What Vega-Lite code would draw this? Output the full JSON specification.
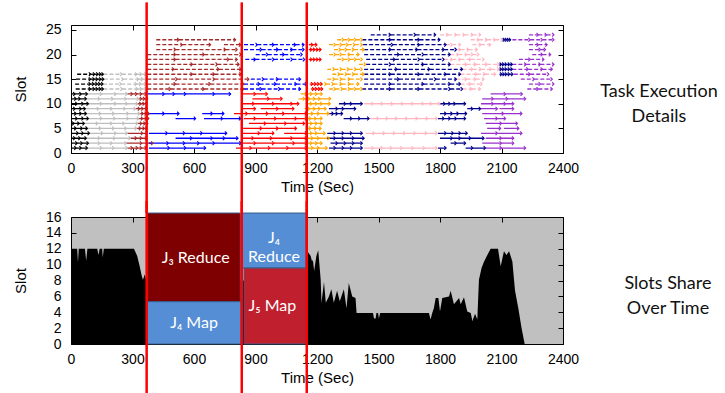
{
"$schema": "https://vega.github.io/schema/vega-lite/v6.json",
"padding": {"left": 12, "top": 0, "right": 0, "bottom": 0},
"bounds": "flush",
"spacing": 64,
"datasets": {
"cuts": [{"t": 369}, {"t": 833}, {"t": 1150}],
"slots": [{"t":0,"v":12},{"t":30,"v":12},{"t":34,"v":10.3},{"t":38,"v":12},{"t":68,"v":12},{"t":74,"v":10.5},{"t":80,"v":12},{"t":128,"v":12},{"t":134,"v":11.2},{"t":140,"v":12},{"t":152,"v":12},{"t":155,"v":10.9},{"t":160,"v":12},{"t":307,"v":12},{"t":323,"v":11.1},{"t":335,"v":9.8},{"t":345,"v":8.6},{"t":351,"v":8.1},{"t":360,"v":8.8},{"t":367,"v":8.0},{"t":375,"v":8},{"t":1140,"v":8},{"t":1150,"v":11.7},{"t":1153,"v":11.7},{"t":1169,"v":11.1},{"t":1176,"v":10.4},{"t":1180,"v":10.6},{"t":1186,"v":9.2},{"t":1197,"v":11.1},{"t":1206,"v":11.8},{"t":1218,"v":8.1},{"t":1222,"v":5.2},{"t":1234,"v":7.8},{"t":1243,"v":5.2},{"t":1258,"v":6.0},{"t":1270,"v":6.9},{"t":1282,"v":5.2},{"t":1298,"v":6.7},{"t":1311,"v":5.4},{"t":1331,"v":6.9},{"t":1344,"v":4.5},{"t":1355,"v":7.7},{"t":1372,"v":6.0},{"t":1388,"v":5.8},{"t":1393,"v":3.9},{"t":1473,"v":3.9},{"t":1478,"v":3.2},{"t":1486,"v":3.2},{"t":1490,"v":3.9},{"t":1498,"v":3.9},{"t":1502,"v":3.2},{"t":1508,"v":3.9},{"t":1746,"v":3.9},{"t":1754,"v":3.1},{"t":1762,"v":3.9},{"t":1770,"v":4.5},{"t":1779,"v":5.8},{"t":1792,"v":5.8},{"t":1800,"v":4.1},{"t":1811,"v":5.8},{"t":1844,"v":6.0},{"t":1852,"v":6.7},{"t":1868,"v":5.0},{"t":1893,"v":5.8},{"t":1901,"v":5.0},{"t":1917,"v":5.9},{"t":1933,"v":4.1},{"t":1950,"v":3.9},{"t":1958,"v":2.9},{"t":1971,"v":3.8},{"t":1982,"v":3.1},{"t":1990,"v":8.1},{"t":2003,"v":9.6},{"t":2015,"v":10.4},{"t":2031,"v":11.2},{"t":2047,"v":12.0},{"t":2083,"v":12.0},{"t":2096,"v":9.8},{"t":2112,"v":11.7},{"t":2124,"v":11.2},{"t":2137,"v":11.7},{"t":2153,"v":10.4},{"t":2166,"v":6.7},{"t":2182,"v":4.5},{"t":2198,"v":2.0},{"t":2213,"v":0},{"t":2400,"v":0}],
"shares": [{"share":"J3 Reduce","t0":371,"t1":826,"v0":5.33,"v1":16.5},{"share":"J4 Map","t0":371,"t1":829,"v0":0,"v1":5.33},{"share":"J4 Reduce","t0":834,"t1":1146,"v0":9.57,"v1":16.5},{"share":"J5 Map","t0":844,"t1":1146,"v0":0,"v1":9.57}],
"shareLabels": [{"label":"J₃ Reduce","t":608,"v":10.83},{"label":"J₄ Map","t":600,"v":2.64},{"label":"J₄\nReduce","t":990,"v":13.3},{"label":"J₅ Map","t":982,"v":4.82}],
"tasks": [
{"s":1,"a":0,"b":25,"j":"J1"},{"s":1,"a":25,"b":50,"j":"J1"},{"s":1,"a":50,"b":80,"j":"J1"},
{"s":2,"a":0,"b":30,"j":"J1"},{"s":2,"a":30,"b":55,"j":"J1"},{"s":2,"a":55,"b":85,"j":"J1"},
{"s":3,"a":0,"b":20,"j":"J1"},{"s":3,"a":20,"b":45,"j":"J1"},{"s":3,"a":45,"b":75,"j":"J1"},
{"s":4,"a":0,"b":35,"j":"J1"},{"s":4,"a":35,"b":60,"j":"J1"},{"s":4,"a":60,"b":90,"j":"J1"},
{"s":5,"a":0,"b":25,"j":"J1"},{"s":5,"a":25,"b":55,"j":"J1"},{"s":5,"a":55,"b":80,"j":"J1"},
{"s":6,"a":0,"b":15,"j":"J1"},{"s":6,"a":15,"b":40,"j":"J1"},{"s":6,"a":40,"b":65,"j":"J1"},
{"s":7,"a":0,"b":30,"j":"J1"},{"s":7,"a":30,"b":60,"j":"J1"},{"s":7,"a":60,"b":85,"j":"J1"},
{"s":8,"a":0,"b":25,"j":"J1"},{"s":8,"a":25,"b":50,"j":"J1"},{"s":8,"a":50,"b":75,"j":"J1"},
{"s":9,"a":0,"b":20,"j":"J1"},{"s":9,"a":20,"b":50,"j":"J1"},{"s":9,"a":50,"b":70,"j":"J1"},
{"s":10,"a":0,"b":30,"j":"J1"},{"s":10,"a":30,"b":60,"j":"J1"},{"s":10,"a":60,"b":85,"j":"J1"},
{"s":11,"a":0,"b":25,"j":"J1"},{"s":11,"a":25,"b":45,"j":"J1"},{"s":11,"a":45,"b":75,"j":"J1"},
{"s":12,"a":0,"b":20,"j":"J1"},{"s":12,"a":20,"b":50,"j":"J1"},{"s":12,"a":50,"b":80,"j":"J1"},
{"s":1,"a":80,"b":150,"j":"J2"},{"s":1,"a":150,"b":210,"j":"J2"},{"s":1,"a":210,"b":275,"j":"J2"},
{"s":2,"a":85,"b":140,"j":"J2"},{"s":2,"a":140,"b":200,"j":"J2"},{"s":2,"a":200,"b":270,"j":"J2"},
{"s":3,"a":75,"b":140,"j":"J2"},{"s":3,"a":140,"b":215,"j":"J2"},{"s":3,"a":215,"b":290,"j":"J2"},
{"s":4,"a":90,"b":155,"j":"J2"},{"s":4,"a":155,"b":220,"j":"J2"},{"s":4,"a":220,"b":275,"j":"J2"},
{"s":5,"a":80,"b":145,"j":"J2"},{"s":5,"a":145,"b":210,"j":"J2"},{"s":5,"a":210,"b":270,"j":"J2"},{"s":5,"a":270,"b":320,"j":"J2"},
{"s":6,"a":65,"b":130,"j":"J2"},{"s":6,"a":130,"b":200,"j":"J2"},{"s":6,"a":200,"b":260,"j":"J2"},{"s":6,"a":260,"b":325,"j":"J2"},
{"s":7,"a":85,"b":150,"j":"J2"},{"s":7,"a":150,"b":215,"j":"J2"},{"s":7,"a":215,"b":280,"j":"J2"},{"s":7,"a":280,"b":330,"j":"J2"},
{"s":8,"a":75,"b":145,"j":"J2"},{"s":8,"a":145,"b":210,"j":"J2"},{"s":8,"a":210,"b":280,"j":"J2"},{"s":8,"a":280,"b":335,"j":"J2"},
{"s":9,"a":70,"b":135,"j":"J2"},{"s":9,"a":135,"b":200,"j":"J2"},{"s":9,"a":200,"b":265,"j":"J2"},{"s":9,"a":265,"b":315,"j":"J2"},
{"s":10,"a":85,"b":150,"j":"J2"},{"s":10,"a":150,"b":220,"j":"J2"},{"s":10,"a":220,"b":275,"j":"J2"},{"s":10,"a":275,"b":325,"j":"J2"},
{"s":11,"a":75,"b":140,"j":"J2"},{"s":11,"a":140,"b":205,"j":"J2"},{"s":11,"a":205,"b":270,"j":"J2"},{"s":11,"a":270,"b":330,"j":"J2"},
{"s":12,"a":80,"b":150,"j":"J2"},{"s":12,"a":150,"b":220,"j":"J2"},{"s":12,"a":220,"b":275,"j":"J2"},
{"s":1,"a":275,"b":300,"j":"J3"},{"s":1,"a":300,"b":325,"j":"J3"},{"s":1,"a":325,"b":345,"j":"J3"},{"s":1,"a":345,"b":368,"j":"J3"},
{"s":2,"a":270,"b":345,"j":"J3"},{"s":2,"a":345,"b":400,"j":"J3"},
{"s":3,"a":290,"b":320,"j":"J3"},{"s":3,"a":320,"b":345,"j":"J3"},{"s":3,"a":345,"b":370,"j":"J3"},
{"s":4,"a":275,"b":350,"j":"J3"},{"s":4,"a":350,"b":372,"j":"J3"},
{"s":5,"a":320,"b":340,"j":"J3"},{"s":5,"a":340,"b":358,"j":"J3"},{"s":5,"a":358,"b":372,"j":"J3"},
{"s":6,"a":325,"b":345,"j":"J3"},{"s":6,"a":345,"b":362,"j":"J3"},{"s":6,"a":362,"b":375,"j":"J3"},
{"s":7,"a":330,"b":350,"j":"J3"},{"s":7,"a":350,"b":368,"j":"J3"},{"s":7,"a":368,"b":380,"j":"J3"},
{"s":8,"a":335,"b":352,"j":"J3"},{"s":8,"a":352,"b":368,"j":"J3"},{"s":8,"a":368,"b":382,"j":"J3"},
{"s":9,"a":315,"b":335,"j":"J3"},{"s":9,"a":335,"b":352,"j":"J3"},{"s":9,"a":352,"b":370,"j":"J3"},
{"s":10,"a":325,"b":342,"j":"J3"},{"s":10,"a":342,"b":358,"j":"J3"},{"s":10,"a":358,"b":372,"j":"J3"},
{"s":11,"a":330,"b":345,"j":"J3"},{"s":11,"a":345,"b":360,"j":"J3"},{"s":11,"a":360,"b":374,"j":"J3"},
{"s":12,"a":275,"b":300,"j":"J3"},{"s":12,"a":300,"b":322,"j":"J3"},{"s":12,"a":322,"b":345,"j":"J3"},{"s":12,"a":345,"b":368,"j":"J3"},
{"s":12,"a":372,"b":455,"j":"J4"},{"s":12,"a":455,"b":505,"j":"J4"},{"s":12,"a":505,"b":560,"j":"J4"},{"s":12,"a":560,"b":700,"j":"J4"},{"s":12,"a":700,"b":779,"j":"J4"},
{"s":8,"a":380,"b":455,"j":"J4"},{"s":8,"a":455,"b":527,"j":"J4"},{"s":8,"a":640,"b":690,"j":"J4"},{"s":8,"a":690,"b":746,"j":"J4"},
{"s":7,"a":510,"b":608,"j":"J4"},{"s":7,"a":649,"b":740,"j":"J4"},{"s":7,"a":740,"b":828,"j":"J4"},
{"s":4,"a":380,"b":470,"j":"J4"},{"s":4,"a":470,"b":555,"j":"J4"},{"s":4,"a":555,"b":640,"j":"J4"},{"s":4,"a":640,"b":760,"j":"J4"},
{"s":3,"a":510,"b":590,"j":"J4"},{"s":3,"a":590,"b":690,"j":"J4"},{"s":3,"a":690,"b":750,"j":"J4"},{"s":3,"a":750,"b":815,"j":"J4"},
{"s":2,"a":380,"b":475,"j":"J4"},{"s":2,"a":475,"b":555,"j":"J4"},{"s":2,"a":555,"b":625,"j":"J4"},{"s":2,"a":625,"b":700,"j":"J4"},{"s":2,"a":700,"b":830,"j":"J4"},
{"s":1,"a":380,"b":480,"j":"J4"},{"s":1,"a":480,"b":560,"j":"J4"},{"s":1,"a":560,"b":657,"j":"J4"},
{"s":12,"a":836,"b":900,"j":"J5"},{"s":12,"a":900,"b":958,"j":"J5"},
{"s":11,"a":885,"b":966,"j":"J5"},{"s":11,"a":966,"b":1030,"j":"J5"},
{"s":10,"a":836,"b":893,"j":"J5"},{"s":10,"a":893,"b":990,"j":"J5"},{"s":10,"a":990,"b":1080,"j":"J5"},{"s":10,"a":1080,"b":1112,"j":"J5"},
{"s":9,"a":836,"b":900,"j":"J5"},{"s":9,"a":925,"b":1010,"j":"J5"},{"s":9,"a":1010,"b":1088,"j":"J5"},
{"s":8,"a":795,"b":860,"j":"J5"},{"s":8,"a":860,"b":960,"j":"J5"},{"s":8,"a":960,"b":1040,"j":"J5"},{"s":8,"a":1040,"b":1150,"j":"J5"},
{"s":7,"a":843,"b":900,"j":"J5"},{"s":7,"a":900,"b":1000,"j":"J5"},{"s":7,"a":1000,"b":1100,"j":"J5"},{"s":7,"a":1100,"b":1150,"j":"J5"},
{"s":6,"a":868,"b":950,"j":"J5"},{"s":6,"a":950,"b":1050,"j":"J5"},{"s":6,"a":1050,"b":1140,"j":"J5"},
{"s":5,"a":840,"b":930,"j":"J5"},{"s":5,"a":930,"b":1010,"j":"J5"},{"s":5,"a":1010,"b":1100,"j":"J5"},
{"s":4,"a":836,"b":920,"j":"J5"},{"s":4,"a":920,"b":990,"j":"J5"},{"s":4,"a":1040,"b":1150,"j":"J5"},
{"s":3,"a":830,"b":890,"j":"J5"},{"s":3,"a":890,"b":980,"j":"J5"},{"s":3,"a":980,"b":1080,"j":"J5"},{"s":3,"a":1080,"b":1150,"j":"J5"},
{"s":2,"a":830,"b":900,"j":"J5"},{"s":2,"a":900,"b":990,"j":"J5"},{"s":2,"a":990,"b":1090,"j":"J5"},{"s":2,"a":1090,"b":1150,"j":"J5"},
{"s":1,"a":805,"b":880,"j":"J5"},{"s":1,"a":880,"b":970,"j":"J5"},{"s":1,"a":970,"b":1060,"j":"J5"},{"s":1,"a":1060,"b":1150,"j":"J5"},
{"s":12,"a":1120,"b":1150,"j":"J6"},{"s":12,"a":1150,"b":1175,"j":"J6"},{"s":12,"a":1175,"b":1200,"j":"J6"},{"s":12,"a":1200,"b":1226,"j":"J6"},
{"s":11,"a":1110,"b":1140,"j":"J6"},{"s":11,"a":1140,"b":1165,"j":"J6"},{"s":11,"a":1165,"b":1190,"j":"J6"},{"s":11,"a":1190,"b":1215,"j":"J6"},{"s":11,"a":1215,"b":1267,"j":"J6"},
{"s":10,"a":1150,"b":1175,"j":"J6"},{"s":10,"a":1175,"b":1200,"j":"J6"},{"s":10,"a":1200,"b":1225,"j":"J6"},{"s":10,"a":1225,"b":1265,"j":"J6"},
{"s":9,"a":1140,"b":1165,"j":"J6"},{"s":9,"a":1165,"b":1190,"j":"J6"},{"s":9,"a":1190,"b":1215,"j":"J6"},{"s":9,"a":1215,"b":1245,"j":"J6"},
{"s":8,"a":1150,"b":1180,"j":"J6"},{"s":8,"a":1180,"b":1210,"j":"J6"},{"s":8,"a":1210,"b":1258,"j":"J6"},
{"s":7,"a":1140,"b":1170,"j":"J6"},{"s":7,"a":1170,"b":1195,"j":"J6"},{"s":7,"a":1195,"b":1225,"j":"J6"},
{"s":6,"a":1150,"b":1175,"j":"J6"},{"s":6,"a":1175,"b":1200,"j":"J6"},{"s":6,"a":1200,"b":1225,"j":"J6"},
{"s":5,"a":1145,"b":1170,"j":"J6"},{"s":5,"a":1170,"b":1195,"j":"J6"},{"s":5,"a":1195,"b":1220,"j":"J6"},
{"s":4,"a":1150,"b":1175,"j":"J6"},{"s":4,"a":1175,"b":1200,"j":"J6"},{"s":4,"a":1200,"b":1240,"j":"J6"},
{"s":3,"a":1150,"b":1180,"j":"J6"},{"s":3,"a":1180,"b":1210,"j":"J6"},{"s":3,"a":1210,"b":1260,"j":"J6"},
{"s":2,"a":1150,"b":1175,"j":"J6"},{"s":2,"a":1175,"b":1200,"j":"J6"},{"s":2,"a":1200,"b":1225,"j":"J6"},
{"s":1,"a":1150,"b":1180,"j":"J6"},{"s":1,"a":1180,"b":1210,"j":"J6"},{"s":1,"a":1210,"b":1250,"j":"J6"},
{"s":10,"a":1307,"b":1340,"j":"J7"},{"s":10,"a":1340,"b":1370,"j":"J7"},{"s":10,"a":1370,"b":1421,"j":"J7"},
{"s":9,"a":1258,"b":1300,"j":"J7"},{"s":9,"a":1300,"b":1330,"j":"J7"},{"s":9,"a":1330,"b":1389,"j":"J7"},
{"s":8,"a":1258,"b":1280,"j":"J7"},{"s":8,"a":1280,"b":1300,"j":"J7"},{"s":8,"a":1300,"b":1325,"j":"J7"},
{"s":7,"a":1330,"b":1370,"j":"J7"},{"s":7,"a":1370,"b":1410,"j":"J7"},{"s":7,"a":1410,"b":1454,"j":"J7"},
{"s":4,"a":1250,"b":1290,"j":"J7"},{"s":4,"a":1290,"b":1330,"j":"J7"},{"s":4,"a":1330,"b":1370,"j":"J7"},{"s":4,"a":1370,"b":1421,"j":"J7"},
{"s":3,"a":1250,"b":1290,"j":"J7"},{"s":3,"a":1290,"b":1330,"j":"J7"},{"s":3,"a":1330,"b":1380,"j":"J7"},{"s":3,"a":1380,"b":1430,"j":"J7"},
{"s":2,"a":1266,"b":1300,"j":"J7"},{"s":2,"a":1300,"b":1340,"j":"J7"},{"s":2,"a":1340,"b":1380,"j":"J7"},{"s":2,"a":1380,"b":1421,"j":"J7"},
{"s":1,"a":1258,"b":1290,"j":"J7"},{"s":1,"a":1290,"b":1330,"j":"J7"},{"s":1,"a":1330,"b":1370,"j":"J7"},{"s":1,"a":1370,"b":1421,"j":"J7"},
{"s":10,"a":1430,"b":1475,"j":"J8"},{"s":10,"a":1475,"b":1520,"j":"J8"},{"s":10,"a":1520,"b":1570,"j":"J8"},{"s":10,"a":1570,"b":1620,"j":"J8"},{"s":10,"a":1620,"b":1670,"j":"J8"},{"s":10,"a":1670,"b":1720,"j":"J8"},{"s":10,"a":1720,"b":1760,"j":"J8"},{"s":10,"a":1760,"b":1800,"j":"J8"},
{"s":7,"a":1454,"b":1500,"j":"J8"},{"s":7,"a":1500,"b":1545,"j":"J8"},{"s":7,"a":1545,"b":1590,"j":"J8"},{"s":7,"a":1590,"b":1640,"j":"J8"},{"s":7,"a":1640,"b":1690,"j":"J8"},{"s":7,"a":1690,"b":1740,"j":"J8"},{"s":7,"a":1740,"b":1787,"j":"J8"},
{"s":4,"a":1437,"b":1480,"j":"J8"},{"s":4,"a":1480,"b":1530,"j":"J8"},{"s":4,"a":1530,"b":1580,"j":"J8"},{"s":4,"a":1580,"b":1630,"j":"J8"},{"s":4,"a":1630,"b":1680,"j":"J8"},{"s":4,"a":1680,"b":1735,"j":"J8"},{"s":4,"a":1735,"b":1786,"j":"J8"},
{"s":1,"a":1429,"b":1475,"j":"J8"},{"s":1,"a":1475,"b":1520,"j":"J8"},{"s":1,"a":1520,"b":1565,"j":"J8"},{"s":1,"a":1565,"b":1615,"j":"J8"},{"s":1,"a":1615,"b":1670,"j":"J8"},{"s":1,"a":1670,"b":1725,"j":"J8"},{"s":1,"a":1725,"b":1786,"j":"J8"},
{"s":10,"a":1800,"b":1825,"j":"J7"},{"s":10,"a":1825,"b":1850,"j":"J7"},{"s":10,"a":1850,"b":1875,"j":"J7"},{"s":10,"a":1875,"b":1925,"j":"J7"},
{"s":9,"a":1933,"b":1960,"j":"J7"},{"s":9,"a":1960,"b":1998,"j":"J7"},
{"s":8,"a":1800,"b":1830,"j":"J7"},{"s":8,"a":1830,"b":1860,"j":"J7"},{"s":8,"a":1860,"b":1890,"j":"J7"},{"s":8,"a":1890,"b":1930,"j":"J7"},
{"s":7,"a":1790,"b":1820,"j":"J7"},{"s":7,"a":1820,"b":1850,"j":"J7"},{"s":7,"a":1850,"b":1880,"j":"J7"},{"s":7,"a":1880,"b":1925,"j":"J7"},
{"s":4,"a":1790,"b":1830,"j":"J7"},{"s":4,"a":1830,"b":1865,"j":"J7"},{"s":4,"a":1865,"b":1900,"j":"J7"},{"s":4,"a":1900,"b":1933,"j":"J7"},
{"s":3,"a":1800,"b":1860,"j":"J7"},{"s":3,"a":1860,"b":1900,"j":"J7"},{"s":3,"a":1900,"b":1950,"j":"J7"},{"s":3,"a":1950,"b":2015,"j":"J7"},
{"s":2,"a":1852,"b":1880,"j":"J7"},{"s":2,"a":1880,"b":1925,"j":"J7"},
{"s":1,"a":1790,"b":1830,"j":"J7"},{"s":1,"a":1925,"b":1960,"j":"J7"},{"s":1,"a":1960,"b":2022,"j":"J7"},
{"s":12,"a":2047,"b":2120,"j":"J9"},{"s":12,"a":2120,"b":2202,"j":"J9"},
{"s":11,"a":2006,"b":2060,"j":"J9"},{"s":11,"a":2060,"b":2130,"j":"J9"},{"s":11,"a":2130,"b":2218,"j":"J9"},
{"s":10,"a":2000,"b":2060,"j":"J9"},{"s":10,"a":2060,"b":2120,"j":"J9"},{"s":10,"a":2120,"b":2160,"j":"J9"},
{"s":9,"a":2000,"b":2080,"j":"J9"},{"s":9,"a":2090,"b":2160,"j":"J9"},
{"s":8,"a":2006,"b":2110,"j":"J9"},{"s":8,"a":2110,"b":2200,"j":"J9"},
{"s":7,"a":2015,"b":2080,"j":"J9"},{"s":7,"a":2080,"b":2120,"j":"J9"},
{"s":6,"a":2023,"b":2100,"j":"J9"},{"s":6,"a":2100,"b":2178,"j":"J9"},
{"s":5,"a":2030,"b":2096,"j":"J9"},{"s":5,"a":2112,"b":2185,"j":"J9"},
{"s":4,"a":2000,"b":2080,"j":"J9"},{"s":4,"a":2080,"b":2200,"j":"J9"},
{"s":3,"a":2023,"b":2100,"j":"J9"},{"s":3,"a":2100,"b":2160,"j":"J9"},
{"s":2,"a":2006,"b":2100,"j":"J9"},{"s":2,"a":2100,"b":2160,"j":"J9"},
{"s":1,"a":2023,"b":2100,"j":"J9"},{"s":1,"a":2100,"b":2218,"j":"J9"},
{"s":13,"a":23,"b":96,"j":"J1"},{"s":13,"a":96,"b":115,"j":"J1"},{"s":13,"a":115,"b":130,"j":"J1"},{"s":13,"a":130,"b":145,"j":"J1"},{"s":13,"a":145,"b":158,"j":"J1"},
{"s":14,"a":20,"b":95,"j":"J1"},{"s":14,"a":95,"b":112,"j":"J1"},{"s":14,"a":112,"b":128,"j":"J1"},{"s":14,"a":128,"b":142,"j":"J1"},{"s":14,"a":142,"b":156,"j":"J1"},
{"s":15,"a":25,"b":96,"j":"J1"},{"s":15,"a":96,"b":114,"j":"J1"},{"s":15,"a":114,"b":130,"j":"J1"},{"s":15,"a":130,"b":146,"j":"J1"},{"s":15,"a":146,"b":160,"j":"J1"},
{"s":16,"a":30,"b":96,"j":"J1"},{"s":16,"a":96,"b":116,"j":"J1"},{"s":16,"a":116,"b":132,"j":"J1"},{"s":16,"a":132,"b":146,"j":"J1"},{"s":16,"a":146,"b":158,"j":"J1"},
{"s":13,"a":158,"b":250,"j":"J2"},{"s":13,"a":250,"b":325,"j":"J2"},{"s":13,"a":325,"b":345,"j":"J2"},{"s":13,"a":345,"b":368,"j":"J2"},
{"s":14,"a":156,"b":245,"j":"J2"},{"s":14,"a":245,"b":320,"j":"J2"},{"s":14,"a":320,"b":342,"j":"J2"},{"s":14,"a":342,"b":366,"j":"J2"},
{"s":15,"a":160,"b":255,"j":"J2"},{"s":15,"a":255,"b":330,"j":"J2"},{"s":15,"a":330,"b":350,"j":"J2"},{"s":15,"a":350,"b":370,"j":"J2"},
{"s":16,"a":158,"b":248,"j":"J2"},{"s":16,"a":248,"b":322,"j":"J2"},{"s":16,"a":322,"b":344,"j":"J2"},{"s":16,"a":344,"b":366,"j":"J2"},
{"s":23,"a":416,"b":527,"j":"J3"},{"s":23,"a":527,"b":803,"j":"J3"},
{"s":22,"a":416,"b":543,"j":"J3"},{"s":22,"a":543,"b":681,"j":"J3"},{"s":22,"a":746,"b":828,"j":"J3"},
{"s":21,"a":416,"b":510,"j":"J3"},{"s":21,"a":510,"b":754,"j":"J3"},{"s":21,"a":754,"b":811,"j":"J3"},
{"s":20,"a":372,"b":510,"j":"J3"},{"s":20,"a":510,"b":650,"j":"J3"},{"s":20,"a":650,"b":830,"j":"J3"},
{"s":19,"a":372,"b":510,"j":"J3"},{"s":19,"a":510,"b":770,"j":"J3"},{"s":19,"a":770,"b":811,"j":"J3"},
{"s":18,"a":372,"b":592,"j":"J3"},{"s":18,"a":592,"b":714,"j":"J3"},{"s":18,"a":714,"b":820,"j":"J3"},
{"s":17,"a":372,"b":502,"j":"J3"},{"s":17,"a":502,"b":722,"j":"J3"},{"s":17,"a":722,"b":830,"j":"J3"},
{"s":16,"a":372,"b":592,"j":"J3"},{"s":16,"a":592,"b":700,"j":"J3"},{"s":16,"a":700,"b":830,"j":"J3"},
{"s":15,"a":372,"b":518,"j":"J3"},{"s":15,"a":518,"b":700,"j":"J3"},{"s":15,"a":700,"b":868,"j":"J3"},
{"s":14,"a":372,"b":510,"j":"J3"},{"s":14,"a":510,"b":680,"j":"J3"},{"s":14,"a":680,"b":844,"j":"J3"},
{"s":13,"a":372,"b":486,"j":"J3"},{"s":13,"a":486,"b":650,"j":"J3"},{"s":13,"a":650,"b":844,"j":"J3"},
{"s":22,"a":844,"b":909,"j":"J4"},{"s":22,"a":909,"b":990,"j":"J4"},{"s":22,"a":990,"b":1096,"j":"J4"},{"s":22,"a":1096,"b":1137,"j":"J4"},
{"s":21,"a":844,"b":930,"j":"J4"},{"s":21,"a":930,"b":1010,"j":"J4"},{"s":21,"a":1010,"b":1080,"j":"J4"},{"s":21,"a":1080,"b":1137,"j":"J4"},
{"s":20,"a":901,"b":960,"j":"J4"},{"s":20,"a":960,"b":1040,"j":"J4"},{"s":20,"a":1040,"b":1128,"j":"J4"},
{"s":19,"a":850,"b":900,"j":"J4"},{"s":19,"a":900,"b":990,"j":"J4"},{"s":19,"a":990,"b":1080,"j":"J4"},{"s":19,"a":1080,"b":1140,"j":"J4"},
{"s":15,"a":877,"b":940,"j":"J4"},{"s":15,"a":940,"b":1010,"j":"J4"},{"s":15,"a":1010,"b":1120,"j":"J4"},
{"s":14,"a":844,"b":920,"j":"J4"},{"s":14,"a":920,"b":1000,"j":"J4"},{"s":14,"a":1000,"b":1100,"j":"J4"},{"s":14,"a":1100,"b":1150,"j":"J4"},
{"s":13,"a":844,"b":930,"j":"J4"},{"s":13,"a":930,"b":1020,"j":"J4"},{"s":13,"a":1020,"b":1120,"j":"J4"},
{"s":22,"a":1160,"b":1180,"j":"J5"},{"s":22,"a":1180,"b":1200,"j":"J5"},
{"s":21,"a":1160,"b":1175,"j":"J5"},{"s":21,"a":1175,"b":1190,"j":"J5"},{"s":21,"a":1190,"b":1205,"j":"J5"},{"s":21,"a":1205,"b":1220,"j":"J5"},
{"s":19,"a":1160,"b":1175,"j":"J5"},{"s":19,"a":1175,"b":1190,"j":"J5"},{"s":19,"a":1190,"b":1205,"j":"J5"},{"s":19,"a":1205,"b":1220,"j":"J5"},
{"s":14,"a":1165,"b":1180,"j":"J5"},{"s":14,"a":1180,"b":1195,"j":"J5"},{"s":14,"a":1195,"b":1210,"j":"J5"},{"s":14,"a":1210,"b":1225,"j":"J5"},
{"s":13,"a":1170,"b":1185,"j":"J5"},{"s":13,"a":1185,"b":1200,"j":"J5"},{"s":13,"a":1200,"b":1215,"j":"J5"},{"s":13,"a":1215,"b":1228,"j":"J5"},
{"s":23,"a":1299,"b":1330,"j":"J6"},{"s":23,"a":1330,"b":1360,"j":"J6"},{"s":23,"a":1360,"b":1390,"j":"J6"},{"s":23,"a":1390,"b":1421,"j":"J6"},
{"s":22,"a":1259,"b":1290,"j":"J6"},{"s":22,"a":1290,"b":1320,"j":"J6"},{"s":22,"a":1320,"b":1350,"j":"J6"},{"s":22,"a":1350,"b":1385,"j":"J6"},{"s":22,"a":1385,"b":1421,"j":"J6"},
{"s":21,"a":1283,"b":1315,"j":"J6"},{"s":21,"a":1315,"b":1345,"j":"J6"},{"s":21,"a":1345,"b":1380,"j":"J6"},{"s":21,"a":1380,"b":1430,"j":"J6"},
{"s":20,"a":1259,"b":1290,"j":"J6"},{"s":20,"a":1290,"b":1320,"j":"J6"},{"s":20,"a":1320,"b":1360,"j":"J6"},{"s":20,"a":1360,"b":1405,"j":"J6"},
{"s":19,"a":1299,"b":1330,"j":"J6"},{"s":19,"a":1330,"b":1360,"j":"J6"},{"s":19,"a":1360,"b":1390,"j":"J6"},{"s":19,"a":1390,"b":1421,"j":"J6"},
{"s":18,"a":1405,"b":1437,"j":"J6"},
{"s":17,"a":1250,"b":1285,"j":"J6"},{"s":17,"a":1285,"b":1320,"j":"J6"},{"s":17,"a":1320,"b":1355,"j":"J6"},{"s":17,"a":1355,"b":1390,"j":"J6"},{"s":17,"a":1390,"b":1421,"j":"J6"},
{"s":16,"a":1275,"b":1310,"j":"J6"},{"s":16,"a":1310,"b":1345,"j":"J6"},{"s":16,"a":1345,"b":1380,"j":"J6"},{"s":16,"a":1380,"b":1430,"j":"J6"},
{"s":15,"a":1250,"b":1285,"j":"J6"},{"s":15,"a":1285,"b":1320,"j":"J6"},{"s":15,"a":1320,"b":1360,"j":"J6"},{"s":15,"a":1360,"b":1421,"j":"J6"},
{"s":14,"a":1210,"b":1245,"j":"J6"},{"s":14,"a":1245,"b":1280,"j":"J6"},{"s":14,"a":1280,"b":1320,"j":"J6"},{"s":14,"a":1320,"b":1360,"j":"J6"},{"s":14,"a":1360,"b":1405,"j":"J6"},
{"s":13,"a":1259,"b":1290,"j":"J6"},{"s":13,"a":1290,"b":1325,"j":"J6"},{"s":13,"a":1325,"b":1360,"j":"J6"},{"s":13,"a":1360,"b":1390,"j":"J6"},{"s":13,"a":1390,"b":1421,"j":"J6"},
{"s":24,"a":1462,"b":1559,"j":"J7"},{"s":24,"a":1559,"b":1681,"j":"J7"},{"s":24,"a":1681,"b":1779,"j":"J7"},
{"s":23,"a":1421,"b":1560,"j":"J7"},{"s":23,"a":1560,"b":1700,"j":"J7"},{"s":23,"a":1700,"b":1800,"j":"J7"},
{"s":22,"a":1425,"b":1570,"j":"J7"},{"s":22,"a":1570,"b":1700,"j":"J7"},{"s":22,"a":1700,"b":1830,"j":"J7"},
{"s":21,"a":1430,"b":1560,"j":"J7"},{"s":21,"a":1560,"b":1690,"j":"J7"},{"s":21,"a":1690,"b":1820,"j":"J7"},{"s":21,"a":1820,"b":1880,"j":"J7"},
{"s":20,"a":1430,"b":1600,"j":"J7"},{"s":20,"a":1600,"b":1720,"j":"J7"},{"s":20,"a":1720,"b":1850,"j":"J7"},
{"s":19,"a":1440,"b":1580,"j":"J7"},{"s":19,"a":1580,"b":1700,"j":"J7"},{"s":19,"a":1700,"b":1820,"j":"J7"},
{"s":18,"a":1440,"b":1560,"j":"J7"},{"s":18,"a":1560,"b":1720,"j":"J7"},{"s":18,"a":1720,"b":1850,"j":"J7"},
{"s":17,"a":1430,"b":1590,"j":"J7"},{"s":17,"a":1590,"b":1750,"j":"J7"},{"s":17,"a":1750,"b":1910,"j":"J7"},
{"s":16,"a":1430,"b":1560,"j":"J7"},{"s":16,"a":1560,"b":1700,"j":"J7"},{"s":16,"a":1700,"b":1830,"j":"J7"},{"s":16,"a":1830,"b":1900,"j":"J7"},
{"s":15,"a":1430,"b":1600,"j":"J7"},{"s":15,"a":1600,"b":1780,"j":"J7"},{"s":15,"a":1780,"b":1880,"j":"J7"},
{"s":14,"a":1430,"b":1560,"j":"J7"},{"s":14,"a":1560,"b":1720,"j":"J7"},{"s":14,"a":1720,"b":1850,"j":"J7"},{"s":14,"a":1850,"b":1900,"j":"J7"},
{"s":13,"a":1420,"b":1560,"j":"J7"},{"s":13,"a":1560,"b":1700,"j":"J7"},{"s":13,"a":1700,"b":1850,"j":"J7"},{"s":13,"a":1850,"b":1910,"j":"J7"},
{"s":24,"a":1800,"b":1840,"j":"J8"},{"s":24,"a":1840,"b":1880,"j":"J8"},{"s":24,"a":1880,"b":1920,"j":"J8"},{"s":24,"a":1920,"b":1960,"j":"J8"},{"s":24,"a":1960,"b":1998,"j":"J8"},
{"s":23,"a":1950,"b":1990,"j":"J8"},{"s":23,"a":1990,"b":2030,"j":"J8"},{"s":23,"a":2030,"b":2070,"j":"J8"},{"s":23,"a":2070,"b":2104,"j":"J8"},
{"s":22,"a":1830,"b":1860,"j":"J8"},{"s":22,"a":1860,"b":1900,"j":"J8"},{"s":22,"a":1958,"b":2000,"j":"J8"},{"s":22,"a":2000,"b":2047,"j":"J8"},
{"s":21,"a":1880,"b":1900,"j":"J8"},{"s":21,"a":1900,"b":1940,"j":"J8"},{"s":21,"a":1940,"b":1982,"j":"J8"},
{"s":20,"a":1850,"b":1890,"j":"J8"},{"s":20,"a":1890,"b":1930,"j":"J8"},{"s":20,"a":1930,"b":1960,"j":"J8"},{"s":20,"a":1960,"b":1990,"j":"J8"},
{"s":19,"a":1820,"b":1860,"j":"J8"},{"s":19,"a":1860,"b":1900,"j":"J8"},{"s":19,"a":1900,"b":1950,"j":"J8"},{"s":19,"a":1950,"b":2015,"j":"J8"},
{"s":18,"a":1850,"b":1930,"j":"J8"},{"s":18,"a":1930,"b":1975,"j":"J8"},{"s":18,"a":1975,"b":2030,"j":"J8"},{"s":18,"a":2030,"b":2088,"j":"J8"},
{"s":17,"a":1910,"b":1960,"j":"J8"},{"s":17,"a":1960,"b":2000,"j":"J8"},{"s":17,"a":2000,"b":2050,"j":"J8"},{"s":17,"a":2050,"b":2088,"j":"J8"},
{"s":16,"a":1900,"b":1980,"j":"J8"},{"s":16,"a":1980,"b":2020,"j":"J8"},{"s":16,"a":2020,"b":2072,"j":"J8"},
{"s":15,"a":1880,"b":1930,"j":"J8"},{"s":15,"a":1930,"b":1975,"j":"J8"},{"s":15,"a":1975,"b":2015,"j":"J8"},
{"s":14,"a":1900,"b":1950,"j":"J8"},{"s":14,"a":1950,"b":2006,"j":"J8"},
{"s":13,"a":1910,"b":1955,"j":"J8"},{"s":13,"a":1955,"b":1998,"j":"J8"},
{"s":23,"a":2104,"b":2115,"j":"J7"},{"s":23,"a":2115,"b":2125,"j":"J7"},{"s":23,"a":2125,"b":2135,"j":"J7"},{"s":23,"a":2135,"b":2145,"j":"J7"},
{"s":18,"a":2088,"b":2100,"j":"J7"},{"s":18,"a":2100,"b":2112,"j":"J7"},{"s":18,"a":2112,"b":2125,"j":"J7"},{"s":18,"a":2125,"b":2140,"j":"J7"},{"s":18,"a":2140,"b":2153,"j":"J7"},
{"s":17,"a":2088,"b":2100,"j":"J7"},{"s":17,"a":2100,"b":2112,"j":"J7"},{"s":17,"a":2112,"b":2125,"j":"J7"},{"s":17,"a":2125,"b":2140,"j":"J7"},{"s":17,"a":2140,"b":2153,"j":"J7"},
{"s":16,"a":2090,"b":2102,"j":"J7"},{"s":16,"a":2102,"b":2114,"j":"J7"},{"s":16,"a":2114,"b":2126,"j":"J7"},{"s":16,"a":2126,"b":2140,"j":"J7"},{"s":16,"a":2140,"b":2156,"j":"J7"},
{"s":24,"a":2234,"b":2280,"j":"J9"},{"s":24,"a":2280,"b":2320,"j":"J9"},{"s":24,"a":2320,"b":2356,"j":"J9"},
{"s":23,"a":2153,"b":2240,"j":"J9"},{"s":23,"a":2240,"b":2300,"j":"J9"},{"s":23,"a":2300,"b":2356,"j":"J9"},
{"s":22,"a":2234,"b":2280,"j":"J9"},{"s":22,"a":2280,"b":2323,"j":"J9"},
{"s":21,"a":2234,"b":2290,"j":"J9"},{"s":21,"a":2290,"b":2315,"j":"J9"},
{"s":20,"a":2250,"b":2300,"j":"J9"},{"s":20,"a":2300,"b":2340,"j":"J9"},
{"s":19,"a":2185,"b":2240,"j":"J9"},{"s":19,"a":2240,"b":2307,"j":"J9"},
{"s":18,"a":2153,"b":2220,"j":"J9"},{"s":18,"a":2220,"b":2290,"j":"J9"},{"s":18,"a":2290,"b":2356,"j":"J9"},
{"s":17,"a":2153,"b":2230,"j":"J9"},{"s":17,"a":2230,"b":2300,"j":"J9"},{"s":17,"a":2300,"b":2348,"j":"J9"},
{"s":16,"a":2160,"b":2240,"j":"J9"},{"s":16,"a":2240,"b":2331,"j":"J9"},
{"s":15,"a":2194,"b":2260,"j":"J9"},{"s":15,"a":2260,"b":2348,"j":"J9"},
{"s":14,"a":2234,"b":2290,"j":"J9"},{"s":14,"a":2290,"b":2356,"j":"J9"},
{"s":13,"a":2226,"b":2280,"j":"J9"},{"s":13,"a":2280,"b":2348,"j":"J9"}
]
},
"vconcat": [
{
"width": 492, "height": 128,
"layer": [
{"data": {"name": "tasks"}, "mark": {"type": "rule", "strokeWidth": 1.3},
 "encoding": {
  "x": {"field": "a", "type": "quantitative", "scale": {"domain": [0, 2400], "nice": false}, "axis": {"orient": "bottom", "values": [0,300,600,900,1200,1500,1800,2100,2400], "format": "d", "title": "Time (Sec)"}},
  "x2": {"field": "b"},
  "y": {"field": "s", "type": "quantitative", "scale": {"domain": [0, 26], "nice": false}, "axis": {"orient": "left", "values": [0,5,10,15,20,25], "format": "d", "title": "Slot"}},
  "color": {"field": "j", "type": "nominal", "scale": {"domain": ["J1","J2","J3","J4","J5","J6","J7","J8","J9"], "range": ["#000000","#bebebe","#a52a2a","#0000ff","#ff0000","#ffa500","#00008b","#ffb6c1","#9932cc"]}, "legend": null},
  "strokeDash": {"condition": {"test": "datum.s > 12", "value": [4, 2]}, "value": [1, 0]}
 }},
{"data": {"name": "tasks"}, "mark": {"type": "point", "shape": "M-1,-1L0,0L-1,1", "filled": false, "size": 14, "strokeWidth": 1.1, "opacity": 1},
 "encoding": {
  "x": {"field": "b", "type": "quantitative", "axis": null},
  "y": {"field": "s", "type": "quantitative", "axis": null},
  "color": {"field": "j", "type": "nominal", "legend": null}
 }},
{"data": {"name": "cuts"}, "mark": {"type": "rule", "color": "#ff0000", "strokeWidth": 2.5},
 "encoding": {
  "x": {"field": "t", "type": "quantitative", "axis": {"orient": "top", "labels": false, "title": null, "values": [0,300,600,900,1200,1500,1800,2100,2400]}},
  "y": {"datum": 30.6, "axis": {"orient": "right", "labels": false, "title": null, "values": [0,5,10,15,20,25]}},
  "y2": {"datum": -12.2}
 }},
{"data": {"values": [{}]}, "mark": {"type": "text", "font": "Lato", "fontSize": 18, "lineBreak": "\n", "lineHeight": 25, "align": "center", "baseline": "middle", "color": "#111"},
 "encoding": {"x": {"datum": 2868, "axis": null}, "y": {"datum": 12.3, "axis": null}, "text": {"value": "Task Execution\nDetails"}}}
]
},
{
"width": 492, "height": 127,
"view": {"fill": "#c0c0c0", "stroke": "#000"},
"layer": [
{"data": {"name": "slots"}, "mark": {"type": "area", "color": "#000", "interpolate": "linear"},
 "encoding": {
  "x": {"field": "t", "type": "quantitative", "scale": {"domain": [0, 2400], "nice": false}, "axis": {"orient": "bottom", "values": [0,300,600,900,1200,1500,1800,2100,2400], "format": "d", "title": "Time (Sec)"}},
  "y": {"field": "v", "type": "quantitative", "scale": {"domain": [0, 16], "nice": false}, "axis": {"orient": "left", "values": [0,2,4,6,8,10,12,14,16], "format": "d", "title": "Slot"}}
 }},
{"data": {"name": "shares"}, "mark": {"type": "rect", "stroke": "#385d8a", "strokeWidth": 1},
 "encoding": {
  "x": {"field": "t0", "type": "quantitative", "axis": null},
  "x2": {"field": "t1"},
  "y": {"field": "v0", "type": "quantitative", "axis": null},
  "y2": {"field": "v1"},
  "fill": {"field": "share", "type": "nominal", "scale": {"domain": ["J3 Reduce","J4 Map","J4 Reduce","J5 Map"], "range": ["#7f0000","#558ed5","#558ed5","#c0202e"]}, "legend": null}
 }},
{"data": {"name": "shareLabels"}, "mark": {"type": "text", "font": "Lato", "fontSize": 16, "color": "#ffffff", "lineBreak": "\n", "lineHeight": 19, "align": "center", "baseline": "middle"},
 "encoding": {
  "x": {"field": "t", "type": "quantitative", "axis": null},
  "y": {"field": "v", "type": "quantitative", "axis": null},
  "text": {"field": "label", "type": "nominal"}
 }},
{"data": {"name": "cuts"}, "mark": {"type": "rule", "color": "#ff0000", "strokeWidth": 2.5},
 "encoding": {
  "x": {"field": "t", "type": "quantitative", "axis": {"orient": "top", "labels": false, "title": null, "values": [0,300,600,900,1200,1500,1800,2100,2400]}},
  "y": {"datum": 18, "axis": {"orient": "right", "labels": false, "title": null, "values": [0,2,4,6,8,10,12,14,16]}},
  "y2": {"datum": -6.4}
 }},
{"data": {"values": [{}]}, "mark": {"type": "text", "font": "Lato", "fontSize": 18, "lineBreak": "\n", "lineHeight": 25, "align": "center", "baseline": "middle", "color": "#111"},
 "encoding": {"x": {"datum": 2912, "axis": null}, "y": {"datum": 7.6, "axis": null}, "text": {"value": "Slots Share\nOver Time"}}}
]
}
],
"config": {
 "font": "Liberation Sans",
 "view": {"stroke": "#000", "strokeWidth": 1},
 "axis": {"grid": false, "domain": false, "tickColor": "#000", "tickSize": -5, "tickWidth": 1, "labelFlush": false, "labelOverlap": false, "labelFont": "Liberation Sans", "labelFontSize": 14, "labelColor": "#000", "titleFont": "Liberation Sans", "titleFontSize": 15, "titleFontWeight": "normal", "titleColor": "#000"},
 "axisX": {"labelPadding": 13, "titlePadding": 4},
 "axisY": {"labelPadding": 15, "titlePadding": 17}
}
}
